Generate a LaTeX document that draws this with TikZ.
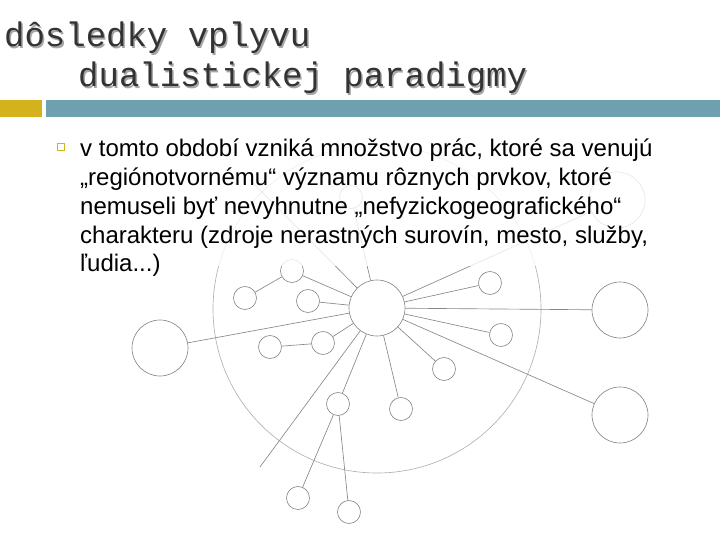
\documentclass[tikz,border=0pt]{standalone}
\usepackage{fontspec}
\setmainfont{Liberation Sans}
\newfontfamily\titlefont{Liberation Mono}
\definecolor{barteal}{RGB}{111,160,176}
\definecolor{bargold}{RGB}{212,178,28}
\definecolor{netgray}{RGB}{135,135,135}
\begin{document}
\begin{tikzpicture}[x=1pt, y=-1pt, inner sep=0pt,
  ball/.style={circle, draw=netgray, line width=0.65pt, minimum size=23pt},
  bigball/.style={ball, minimum size=56pt},
  link/.style={draw=netgray, line width=0.65pt},
  title/.style={anchor=base west, font=\titlefont\fontsize{34}{34}\selectfont},
  body/.style={anchor=base west, font=\fontsize{24}{28.7}\selectfont}]
  \useasboundingbox (0,0) rectangle (720,540);
  \node[ball, minimum size=328pt, draw=netgray!65] (ring) at (377,309) {};
  \node[bigball] (hub) at (377,308) {};
  \node[bigball] (west) at (160,348) {};
  \node[bigball] (east) at (620,310) {};
  \node[bigball] (southeast) at (620,415) {};
  \node[bigball] (northeast) at (617,200) {};
  \node[ball] (top) at (351,197) {};
  \node[ball] (a1) at (292,271) {};
  \node[ball] (a2) at (245,298) {};
  \node[ball] (b) at (308,301) {};
  \node[ball] (c1) at (323,343) {};
  \node[ball] (c2) at (270,347) {};
  \node[ball] (d) at (338,404) {};
  \node[ball] (d1) at (298,498) {};
  \node[ball] (d2) at (349,512) {};
  \node[ball] (e) at (401,409) {};
  \node[ball] (f) at (444,369) {};
  \node[ball] (g) at (501,335) {};
  \node[ball] (h) at (490,283) {};
  \coordinate (nwend) at (250,180);
  \coordinate (swend) at (260,467);
  \foreach \n in {west,east,southeast,northeast,top,a1,b,c1,d,e,f,g,h,nwend,swend}
    \draw[link] (hub) -- (\n);
  \draw[link] (a1) -- (a2);
  \draw[link] (c1) -- (c2);
  \draw[link] (d) -- (d1);
  \draw[link] (d) -- (d2);
  \fill[white, fill opacity=0.8] (55,128) rectangle (665,266);
  \node[title, text=black!35] (title1s) at (5.5,48.5) {dôsledky vplyvu};
  \node[title, text=black!80] (title1) at (4,47) {dôsledky vplyvu};
  \node[title, text=black!35] (title2s) at (79.5,88.5) {dualistickej paradigmy};
  \node[title, text=black!80] (title2) at (78,87) {dualistickej paradigmy};
  \fill[bargold] (0,100) rectangle (42,117);
  \fill[barteal] (46,100) rectangle (720,117);
  \node[draw=bargold, line width=1.3pt, minimum size=7.5pt] (bullet) at (61,147) {};
  \node[body] (line0) at (80,157) {v tomto období vzniká množstvo prác, ktoré sa venujú};
  \node[body] (line1) at (80,185.7) {„regiónotvornému“ významu rôznych prvkov, ktoré};
  \node[body] (line2) at (80,214.4) {nemuseli byť nevyhnutne „nefyzickogeografického“};
  \node[body] (line3) at (80,243.1) {charakteru (zdroje nerastných surovín, mesto, služby,};
  \node[body] (line4) at (80,271.8) {ľudia...)};
\end{tikzpicture}
\end{document}
